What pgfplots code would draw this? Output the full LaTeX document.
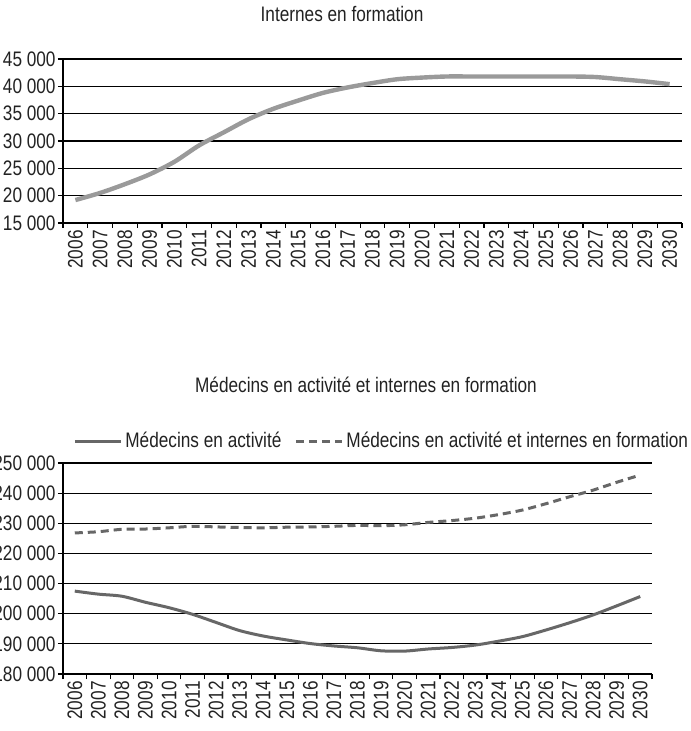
\documentclass[border=0pt]{standalone}
\usepackage{pgfplots}
\usepackage{pgfplotstable}
\pgfplotsset{compat=1.18}
\usepackage{fontspec}
\setmainfont{Liberation Sans}[FakeStretch=0.82]

\definecolor{lightline}{HTML}{9A9A9A}
\definecolor{darkline}{HTML}{676767}
\definecolor{txt}{HTML}{222222}

\pgfplotstableread{
idx internes medecins total
0 19200 207500 226800
1 20500 206500 227200
2 22100 205800 228000
3 23900 203800 228100
4 26200 202000 228500
5 29200 199800 229000
6 31600 197100 228800
7 34000 194400 228600
8 35900 192600 228500
9 37400 191300 228700
10 38800 190100 228800
11 39800 189300 229000
12 40600 188700 229300
13 41300 187700 229200
14 41600 187600 229500
15 41800 188300 230300
16 41800 188800 230900
17 41800 189600 231700
18 41800 190900 232900
19 41800 192400 234400
20 41800 194600 236500
21 41700 197000 238800
22 41300 199600 241000
23 40900 202600 243600
24 40400 205700 246000
}\datatable

\pgfplotsset{
  mystyle/.style={
    scale only axis,
    axis lines*=left,
    xmin=-0.5, xmax=24.5,
    xtick={0,...,24},
    xticklabels={2006,2007,2008,2009,2010,2011,2012,2013,2014,2015,2016,2017,2018,2019,2020,2021,2022,2023,2024,2025,2026,2027,2028,2029,2030},
    major x tick style={draw=none},
    minor xtick={-0.5,0.5,...,24.5},
    minor tick length=2.5pt, major tick length=2.5pt,
    tick align=outside,
    scaled y ticks=false,
    ymajorgrids,
    grid style={black, line width=0.6pt},
    axis line style={black, line width=0.6pt},
    tick style={black, line width=0.6pt},
    x tick label style={rotate=90, anchor=east, inner sep=1pt},
    y tick label style={inner sep=1pt},
    tick label style={font=\fontsize{10.5}{12}\selectfont, text=txt},
    /pgf/number format/assume math mode=true,
  }
}

\begin{document}
\begin{tikzpicture}
\path[use as bounding box] (0,0) rectangle (345pt,-365.5pt);

\node[font=\fontsize{10.5}{12}\selectfont, text=txt] at (171pt,-7pt) {Internes en formation};
\node[font=\fontsize{10.5}{12}\selectfont, text=txt] at (183pt,-192.5pt) {Médecins en activité et internes en formation};

\begin{axis}[mystyle,
  at={(31.5pt,-111.5pt)}, anchor=south west,
  width=309.5pt, height=82pt,
  ymin=15000, ymax=45000,
  ytick={15000,20000,25000,30000,35000,40000,45000},
  yticklabels={15 000,20 000,25 000,30 000,35 000,40 000,45 000},
]
\addplot[lightline, line width=2.2pt, smooth, tension=0.5, line join=round] table[x=idx, y=internes] {\datatable};
\end{axis}

\begin{axis}[mystyle,
  at={(31.5pt,-337pt)}, anchor=south west,
  width=294.5pt, height=105.5pt,
  ymin=180000, ymax=250000,
  ytick={180000,190000,200000,210000,220000,230000,240000,250000},
  yticklabels={180 000,190 000,200 000,210 000,220 000,230 000,240 000,250 000},
  legend columns=2,
  legend style={draw=none, fill=none, at={(0,1)}, anchor=west, xshift=5pt, yshift=11pt, inner sep=0pt,
    font=\fontsize{10.5}{12}\selectfont, text=txt,
    nodes={inner sep=1.5pt},
    /tikz/every even column/.append style={column sep=5pt}},
  legend image code/.code={\draw[#1] (0pt,0pt) -- (23pt,0pt);},
]
\addplot[darkline, line width=1.5pt, smooth, tension=0.5, line join=round] table[x=idx, y=medecins] {\datatable};
\addlegendentry{Médecins en activité}
\addplot[darkline, line width=1.5pt, dash pattern=on 4pt off 2.5pt, smooth, tension=0.5] table[x=idx, y=total] {\datatable};
\addlegendentry{Médecins en activité et internes en formation}
\end{axis}
\end{tikzpicture}
\end{document}
